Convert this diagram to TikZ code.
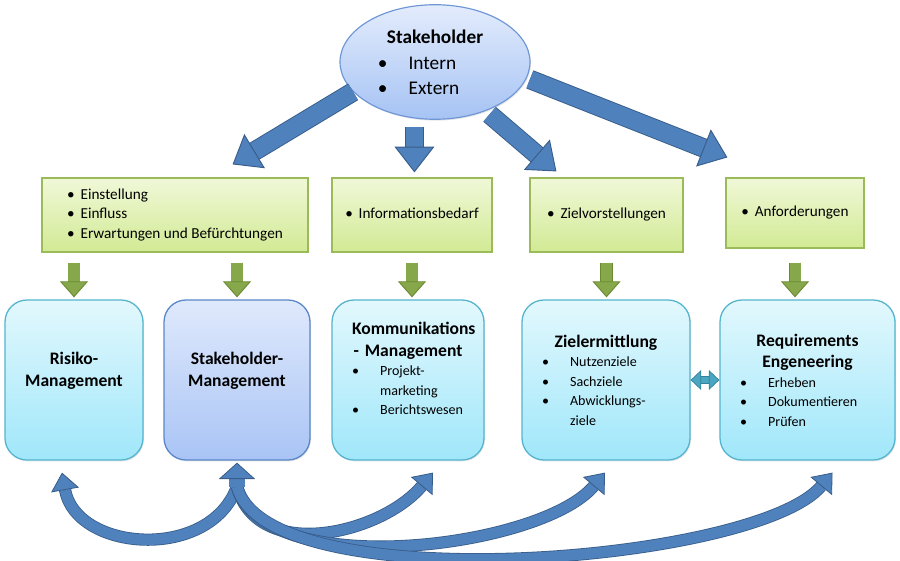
\documentclass[tikz,border=0pt]{standalone}
\usepackage{fontspec}
\setmainfont{Carlito}
\usetikzlibrary{arrows.meta,positioning,shapes.geometric,shadows,calc}

\definecolor{ellTop}{HTML}{E3ECFC}
\definecolor{ellBot}{HTML}{A6C3F4}
\definecolor{ellLine}{HTML}{6F97D6}
\definecolor{grTop}{HTML}{F0F8D8}
\definecolor{grBot}{HTML}{D2EA94}
\definecolor{grLine}{HTML}{9BBB59}
\definecolor{cyTop}{HTML}{E2F8FD}
\definecolor{cyBot}{HTML}{A0E7FA}
\definecolor{cyLine}{HTML}{55B4CE}
\definecolor{stTop}{HTML}{DFE9FC}
\definecolor{stBot}{HTML}{A9C4F5}
\definecolor{stLine}{HTML}{5A87C8}
\definecolor{arrBlue}{HTML}{4F81BD}
\definecolor{arrBlueD}{HTML}{385D8A}
\definecolor{arrGreen}{HTML}{86A84A}
\definecolor{arrGreenD}{HTML}{6A8A32}
\definecolor{arrTeal}{HTML}{4BA6C2}
\definecolor{arrTealD}{HTML}{31839B}

\newcommand{\gliste}[1]{\begin{tabular}{@{}l@{\hspace{5pt}}l@{}}#1\end{tabular}}
\newcommand{\pkt}[1]{\par\fontsize{12}{16.6}\selectfont\mdseries\raggedright\hangindent=24pt\hangafter=1\noindent\makebox[24pt][l]{\textbullet}#1}

\begin{document}
\begin{tikzpicture}[x=0.3mm,y=0.3mm]
	\useasboundingbox (0,0) rectangle (900,560);
	\begin{scope}[
		boxStake/.style={ellipse,draw=ellLine,line width=1pt,top color=ellTop,bottom color=ellBot,minimum width=57mm,minimum height=34.2mm,inner sep=0pt,font=\fontsize{16.5}{21.8}\selectfont,drop shadow={opacity=.2,shadow xshift=.8pt,shadow yshift=-1.2pt}},
		boxZiel/.style={rectangle,draw=grLine,line width=1pt,top color=grTop,bottom color=grBot,minimum height=22.2mm,font=\fontsize{13}{16.6}\selectfont,drop shadow={opacity=.2,shadow xshift=.8pt,shadow yshift=-1.2pt}},
		boxMgmt/.style={rectangle,rounded corners=6.6mm,draw=cyLine,line width=1.1pt,top color=cyTop,bottom color=cyBot,minimum height=48mm,align=center,font=\fontsize{15}{18.5}\selectfont\bfseries,drop shadow={opacity=.2,shadow xshift=.8pt,shadow yshift=-1.2pt}},
		boxSM/.style={boxMgmt,draw=stLine,top color=stTop,bottom color=stBot},
		bigArrow/.style={draw=arrBlueD,double=arrBlue,double distance=15pt,line width=.8pt,-{Triangle[length=22pt,width=34pt,fill=arrBlue,line width=.8pt]}},
		smallArrow/.style={draw=arrGreenD,double=arrGreen,double distance=9.4pt,line width=.8pt,shorten <=3mm,shorten >=.6mm,-{Triangle[length=13.7pt,width=24pt,fill=arrGreen,line width=.8pt]}},
		curveArrow/.style={draw=arrBlueD,double=arrBlue,double distance=9pt,line width=.7pt,-{Triangle[length=15pt,width=24pt,fill=arrBlue,line width=.7pt]}},
		upArrow/.style={draw=arrBlueD,double=arrBlue,double distance=13pt,line width=.7pt,shorten >=.6mm,-{Triangle[length=14pt,width=31pt,fill=arrBlue,line width=.7pt]}},
		dblArrow/.style={draw=arrTealD,double=arrTeal,double distance=5pt,line width=.6pt,{Triangle[length=9pt,width=17pt,fill=arrTeal,line width=.6pt]}-{Triangle[length=9pt,width=17pt,fill=arrTeal,line width=.6pt]}}]
		% Stakeholder oben
		\node [boxStake, align=center]	(1)	at (435,498)	{\rule{0pt}{19pt}\textbf{Stakeholder}\\ \begin{tabular}[t]{@{}l@{\hspace{18pt}}l@{}}\textbullet & Intern\\ \textbullet & Extern\end{tabular}\hspace*{28pt}};
		% gruene Kaesten
		\node [boxZiel, minimum width=79.8mm]	(2A)	at (175,345)	{\gliste{\textbullet & Einstellung\\ \textbullet & Einfluss\\ \textbullet & Erwartungen und Befürchtungen}};
		\node [boxZiel, minimum width=48mm]	(2B)	at (412,345)	{\gliste{\textbullet & Informationsbedarf}};
		\node [boxZiel, minimum width=45.9mm]	(2C)	at (606.5,345)	{\gliste{\textbullet & Zielvorstellungen}};
		\node [boxZiel, minimum width=41.4mm, minimum height=21mm]	(2D)	at (795,347)	{\gliste{\textbullet & Anforderungen}};
		% Management-Kaesten
		\node [boxMgmt, minimum width=41.4mm, text width=32.4mm]	(3A)	at (74,180)	{Risiko-\\Management\par\rule{0pt}{1pt}};
		\node [boxSM, minimum width=43.8mm, text width=34.8mm]	(3B)	at (237,180)	{Stakeholder-\\Management\par\rule{0pt}{1pt}};
		\node [boxMgmt, minimum width=45.6mm, text width=33.6mm]	(3C)	at (408,180)	{Kommunikations\\- Management\pkt{Projekt-\newline marketing}\pkt{Berichtswesen}\par\rule{0pt}{18.6pt}};
		\node [boxMgmt, minimum width=50.4mm, text width=38.4mm]	(3D)	at (606,180)	{Zielermittlung\pkt{Nutzenziele}\pkt{Sachziele}\pkt{Abwicklungs-\newline ziele}\par};
		\node [boxMgmt, minimum width=52.5mm, text width=40.5mm]	(3E)	at (807.5,180)	{Requirements\\Engeneering\pkt{Erheben}\pkt{Dokumentieren}\pkt{Prüfen}\par};
		\coordinate (hub) at ($(3B.south)+(0,-26)$);
		\path
		(1.200) edge [bigArrow]	($(2A.north east)+(-76,13)$)
		(1.250) edge [bigArrow, shorten <=2.4mm, shorten >=1.5mm]	(1.250 |- 2B.north)
		(1.316) edge [bigArrow, shorten <=1.5mm]	($(2C.north west)+(27,6)$)
		(1.-10) edge [bigArrow, shorten <=1mm]	($(2D.north west)+(2,20)$)
		;
		\path
		(3A.north |- 2A.south) edge [smallArrow]	(3A.north)
		(3B.north |- 2A.south) edge [smallArrow]	(3B.north)
		(2B.south) edge [smallArrow]	(2B.south |- 3C.north)
		(2C.south) edge [smallArrow]	(2C.south |- 3D.north)
		(2D.south) edge [smallArrow, shorten <=4.2mm]	(2D.south |- 3E.north)
		(3D.east) edge [dblArrow]	(3E.west)
		;
		\path
		(hub) edge [curveArrow, out=-110, in=-80, looseness=1.17]	($(3A.south)+(-12,-12)$)
		(hub) edge [curveArrow, out=-75, in=-130, looseness=1.04]	($(3C.south)+(25,-12)$)
		(hub) edge [curveArrow, out=-75, in=-130, looseness=.69]	($(3D.south)+(-1,-12)$)
		(hub) edge [curveArrow, out=-75, in=-130, looseness=.51]	($(3E.south)+(25,-12)$)
		(hub) edge [upArrow]	(3B.south)
		;
	\end{scope}
\end{tikzpicture}
\end{document}
